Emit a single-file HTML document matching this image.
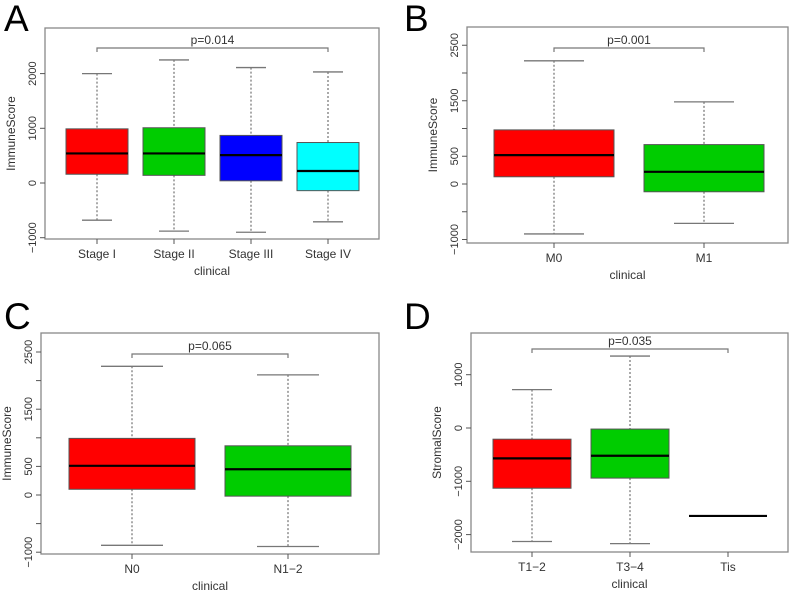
<!DOCTYPE html>
<html><head><meta charset="utf-8"><style>
body{margin:0;background:#fff}
svg{display:block;font-family:"Liberation Sans",sans-serif}
</style></head><body>
<svg id="s" width="793" height="592" viewBox="0 0 793 592">
<text x="4" y="31" font-size="37">A</text>
<text x="404" y="31" font-size="37">B</text>
<text x="4" y="329" font-size="37">C</text>
<text x="404" y="329" font-size="37">D</text>
</svg>
<script>
// Panel A
const catsA=["Stage I","Stage II","Stage III","Stage IV"];
const colorsA=["#ff0000","#00cc00","#0000ff","#00ffff"];
const whiHiA=[2000,2250,2110,2030];
const q3A=[990,1010,870,740];
const medA=[540,540,510,220];
const q1A=[160,140,40,-140];
const whiLoA=[-680,-880,-900,-710];
const ticksA=[-1000,0,1000,2000];
// Panel B
const catsB=["M0","M1"];
const colorsB=["#ff0000","#00cc00"];
const whiHiB=[2220,1480];
const q3B=[975,710];
const medB=[520,220];
const q1B=[130,-140];
const whiLoB=[-900,-710];
const ticksB=[-1000,-500,0,500,1000,1500,2000,2500];
const tickLabelsB=["-1000","","0","500","","1500","","2500"];
// Panel C
const catsC=["N0","N1\u22122"];
const colorsC=["#ff0000","#00cc00"];
const whiHiC=[2250,2100];
const q3C=[990,860];
const medC=[510,450];
const q1C=[100,-20];
const whiLoC=[-880,-900];
const ticksC=[-1000,-500,0,500,1000,1500,2000,2500];
const tickLabelsC=["-1000","","0","500","","1500","","2500"];
// Panel D
const catsD=["T1\u22122","T3\u22124","Tis"];
const colorsD=["#ff0000","#00cc00","#ffffff"];
const whiHiD=[720,1350,-1650];
const q3D=[-210,-20,-1650];
const medD=[-570,-520,-1650];
const q1D=[-1130,-940,-1650];
const whiLoD=[-2130,-2170,-1650];
const ticksD=[-2000,-1000,0,1000];

const NS="http://www.w3.org/2000/svg";
const svg=document.getElementById('s');
function mk(tag,attrs,parent,txt){const e=document.createElementNS(NS,tag);for(const k in attrs)e.setAttribute(k,attrs[k]);if(txt!==undefined)e.textContent=txt;(parent||svg).appendChild(e);return e;}

function panel(p){
  const g=mk('g',{});
  
  
  const y=v=>p.y0-(v-p.v0)*p.ppu;
  const n=p.cats.length;
  const x=i=>p.cx0+i*p.dx;
  const fr=mk('rect',{x:p.bx0,y:p.by0,width:p.bx1-p.bx0,height:p.by1-p.by0,fill:'none',stroke:'#888','stroke-width':1.3},g);
  
  
  const ax=p.bx0;
  const yt=p.ticks;
  yt.forEach((t,i)=>{
    mk('line',{x1:ax-5,x2:ax,y1:y(t),y2:y(t),stroke:'#555'},g);
    const lab=p.tickLabels?p.tickLabels[i]:String(t);
    if(lab){const tx=mk('text',{x:0,y:0,'font-size':11,'text-anchor':'middle',fill:'#333',transform:`translate(${ax-9},${y(t)}) rotate(-90)`},g,lab.replace('-','\u2212'));
      
      }
  });
  const yl=mk('text',{x:0,y:0,'font-size':12,'text-anchor':'middle',fill:'#333',transform:`translate(${p.bx0-30},${(p.by0+p.by1)/2}) rotate(-90)`},g,p.ylabel);
  
  
  const ay=p.by1;
  p.cats.forEach((c,i)=>{
    mk('line',{x1:x(i),x2:x(i),y1:ay,y2:ay+5,stroke:'#555'},g);
    const t=mk('text',{x:x(i),y:ay+19,'font-size':12,'text-anchor':'middle',fill:'#333'},g,c);
    
    
  });
  const xl=mk('text',{x:(p.bx0+p.bx1)/2,y:ay+36,'font-size':12,'text-anchor':'middle',fill:'#333'},g,'clinical');
  
  
  p.cats.forEach((c,i)=>{
    const cx=x(i),hw=p.hw,cap=p.cap;
    const bg=mk('g',{},g);
    
    
    if(p.hi[i]!==p.lo[i]){
      mk('line',{x1:cx,x2:cx,y1:y(p.hi[i]),y2:y(p.q3[i]),stroke:'#555','stroke-dasharray':'2,2'},bg);
      mk('line',{x1:cx,x2:cx,y1:y(p.q1[i]),y2:y(p.lo[i]),stroke:'#555','stroke-dasharray':'2,2'},bg);
      mk('line',{x1:cx-cap,x2:cx+cap,y1:y(p.hi[i]),y2:y(p.hi[i]),stroke:'#777','stroke-width':1.3},bg);
      mk('line',{x1:cx-cap,x2:cx+cap,y1:y(p.lo[i]),y2:y(p.lo[i]),stroke:'#777','stroke-width':1.3},bg);
      mk('rect',{x:cx-hw,y:y(p.q3[i]),width:2*hw,height:y(p.q1[i])-y(p.q3[i]),fill:p.colors[i],stroke:'#555','stroke-width':1},bg);
      mk('line',{x1:cx-hw,x2:cx+hw,y1:y(p.med[i]),y2:y(p.med[i]),stroke:'#000','stroke-width':2.2},bg);
    } else {
      mk('line',{x1:cx-hw,x2:cx+hw,y1:y(p.med[i]),y2:y(p.med[i]),stroke:'#000','stroke-width':2.2},bg);
    }
  });
  const bx1=x(p.br[0]),bx2=x(p.br[1]);
  mk('path',{d:`M${bx1},${p.bry+4}V${p.bry}H${bx2}V${p.bry+4}`,fill:'none',stroke:'#777','stroke-width':1.2},g);
  const pt=mk('text',{x:(bx1+bx2)/2,y:p.bry-4,'font-size':12,'text-anchor':'middle',fill:'#333'},g,p.pval);
  
  
}

panel({name:'panel-a-stage',cats:catsA,colors:colorsA,hi:whiHiA,q3:q3A,med:medA,q1:q1A,lo:whiLoA,ticks:ticksA,
  v0:0,y0:183,ppu:0.0547,bx0:45,bx1:379,by0:28,by1:239,cx0:97,dx:77,hw:31,cap:15,ylabel:'ImmuneScore',br:[0,3],bry:48,pval:'p=0.014'});
panel({name:'panel-b-m-stage',cats:catsB,colors:colorsB,hi:whiHiB,q3:q3B,med:medB,q1:q1B,lo:whiLoB,ticks:ticksB,tickLabels:tickLabelsB,
  v0:0,y0:184,ppu:0.0555,bx0:467,bx1:788,by0:27,by1:243,cx0:554,dx:150,hw:60,cap:30,ylabel:'ImmuneScore',br:[0,1],bry:48,pval:'p=0.001'});
panel({name:'panel-c-n-stage',cats:catsC,colors:colorsC,hi:whiHiC,q3:q3C,med:medC,q1:q1C,lo:whiLoC,ticks:ticksC,tickLabels:tickLabelsC,
  v0:0,y0:495,ppu:0.0572,bx0:41,bx1:379,by0:333,by1:554,cx0:132,dx:156,hw:63,cap:31,ylabel:'ImmuneScore',br:[0,1],bry:354,pval:'p=0.065'});
panel({name:'panel-d-t-stage',cats:catsD,colors:colorsD,hi:whiHiD,q3:q3D,med:medD,q1:q1D,lo:whiLoD,ticks:ticksD,
  v0:0,y0:428,ppu:0.0533,bx0:471,bx1:788,by0:333,by1:552,cx0:532,dx:98,hw:39,cap:20,ylabel:'StromalScore',br:[0,2],bry:349,pval:'p=0.035'});
</script>
</body></html>
